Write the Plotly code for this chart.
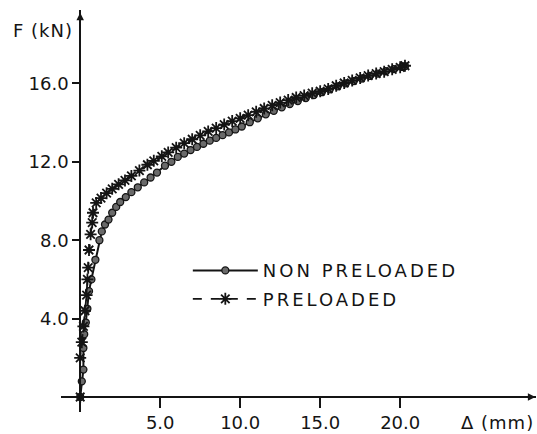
import plotly.graph_objects as go

# ---- data ----
np_delta = [0, 0.1, 0.2, 0.2, 0.25, 0.35, 0.45, 0.55, 0.7, 0.95, 1.2, 1.35, 1.55, 1.77, 2.0,
            2.25, 2.5, 2.85, 3.2, 3.6, 4.0, 4.4, 4.8, 5.3, 5.7, 6.1, 6.5, 6.9, 7.3, 7.7,
            8.1, 8.5, 8.9, 9.3, 9.7, 10.1, 10.6, 11.1, 11.6, 12.1, 12.6, 13.1, 13.6, 14.1,
            14.6, 15.1, 15.6, 16.1, 16.6, 17.1, 17.6, 18.1, 18.6, 19.1, 19.6, 20.1, 20.3]
np_force = [0, 0.8, 1.4, 2.5, 3.2, 3.8, 4.5, 5.4, 6.0, 7.0, 8.0, 8.45, 8.8, 9.05, 9.4,
            9.7, 9.95, 10.2, 10.45, 10.7, 10.95, 11.2, 11.45, 11.8, 12.0, 12.25, 12.42, 12.6, 12.76, 12.92,
            13.08, 13.22, 13.36, 13.5, 13.65, 13.8, 14.02, 14.22, 14.42, 14.6, 14.78, 14.95, 15.1, 15.25,
            15.4, 15.55, 15.7, 15.85, 16.0, 16.12, 16.25, 16.38, 16.5, 16.62, 16.73, 16.84, 16.88]

pl_delta = [0, 0.0, 0.1, 0.2, 0.3, 0.4, 0.45, 0.5, 0.55, 0.65, 0.75, 0.8, 1.0, 1.3, 1.65,
            2.0, 2.4, 2.8, 3.2, 3.7, 4.2, 4.6, 5.1, 5.5, 6.0, 6.5, 7.0, 7.5, 8.0, 8.5,
            9.0, 9.5, 10.0, 10.5, 11.0, 11.5, 12.0, 12.5, 13.0, 13.5, 14.0, 14.5, 15.0, 15.5,
            16.0, 16.5, 17.0, 17.5, 18.0, 18.5, 19.0, 19.5, 20.0, 20.3]
pl_force = [0, 2.0, 2.8, 3.6, 4.4, 5.2, 6.0, 6.6, 7.5, 8.3, 8.9, 9.4, 9.9, 10.15, 10.4,
            10.62, 10.85, 11.05, 11.28, 11.55, 11.85, 12.05, 12.28, 12.48, 12.72, 12.95, 13.15, 13.35, 13.55, 13.72,
            13.9, 14.08, 14.22, 14.38, 14.55, 14.72, 14.88, 15.02, 15.15, 15.28, 15.38, 15.5, 15.6, 15.72,
            15.88, 16.02, 16.15, 16.28, 16.4, 16.5, 16.6, 16.72, 16.82, 16.9]

x_ticks = [5, 10, 15, 20]
x_tick_labels = ["5.0", "10.0", "15.0", "20.0"]
y_ticks = [4, 8, 12, 16]
y_tick_labels = ["4.0", "8.0", "12.0", "16.0"]

FONT = "DejaVu Sans"
INK = "#141414"

fig = go.Figure()
fig.add_trace(go.Scatter(
    x=np_delta, y=np_force, mode="lines+markers",
    name='<span style="letter-spacing:3px">NON PRELOADED</span>',
    legendgroup="a",
    line=dict(color=INK, width=2),
    marker=dict(symbol="circle", size=7, color="#6a6a6a", line=dict(color=INK, width=1.3)),
    cliponaxis=False,
))
fig.add_trace(go.Scatter(
    x=pl_delta, y=pl_force, mode="lines+markers",
    name='<span style="letter-spacing:3px">PRELOADED</span>',
    legendgroup="b",
    line=dict(color=INK, width=1.8, dash="dash"),
    marker=dict(symbol="asterisk-open", size=10, color=INK, line=dict(color=INK, width=1.8)),
    cliponaxis=False,
))

fig.update_layout(
    width=537, height=434,
    margin=dict(l=61, r=1, t=10, b=22, autoexpand=False),
    paper_bgcolor="white", plot_bgcolor="white",
    font=dict(family=FONT, color=INK, size=18),
    showlegend=True,
    legend=dict(x=0.267, y=0.3975, xanchor="left", yanchor="top",
                bgcolor="rgba(0,0,0,0)", font=dict(size=18, family=FONT, color=INK),
                itemwidth=65, tracegroupgap=2),
    xaxis=dict(range=[-1.2, 28.49], showgrid=False, zeroline=False, automargin=False,
               showline=True, linecolor=INK, linewidth=1.5,
               anchor="free", position=0.0373,
               tickmode="array", tickvals=x_ticks, ticktext=x_tick_labels,
               ticks="outside", ticklen=10, tickwidth=1.5, tickcolor=INK,
               tickfont=dict(size=18, family=FONT, color=INK)),
    yaxis=dict(range=[-0.765, 19.745], showgrid=False, zeroline=False, automargin=False,
               showline=True, linecolor=INK, linewidth=1.5,
               anchor="free", position=0.04,
               tickmode="array", tickvals=y_ticks, ticktext=y_tick_labels,
               ticks="outside", ticklen=7, tickwidth=1.5, tickcolor=INK,
               tickfont=dict(size=18, family=FONT, color=INK)),
)

# axis arrows and titles
fig.add_annotation(x=28.45, y=0, xref="x", yref="y", ax=-16, ay=0, text="",
                   showarrow=True, arrowhead=2, arrowsize=1, arrowwidth=1.5, arrowcolor=INK)
fig.add_annotation(x=0, y=19.6, xref="x", yref="y", ax=0, ay=16, text="",
                   showarrow=True, arrowhead=2, arrowsize=1, arrowwidth=1.5, arrowcolor=INK)
fig.add_annotation(x=0, y=0.95, xref="paper", yref="paper", xanchor="left", yanchor="middle",
                   xshift=-50,
                   text='<span style="letter-spacing:1px">F (kN)</span>', showarrow=False,
                   font=dict(size=18, family=FONT, color=INK))
fig.add_annotation(x=1, y=-0.027, xref="paper", yref="paper", xanchor="right", yanchor="middle",
                   text='<span style="letter-spacing:1px">Δ (mm)</span>', showarrow=False,
                   font=dict(size=18, family=FONT, color=INK))

fig.write_html("out.html",
               config={"displayModeBar": False},
               post_script="document.body.style.margin='0';document.body.style.overflow='hidden';")
